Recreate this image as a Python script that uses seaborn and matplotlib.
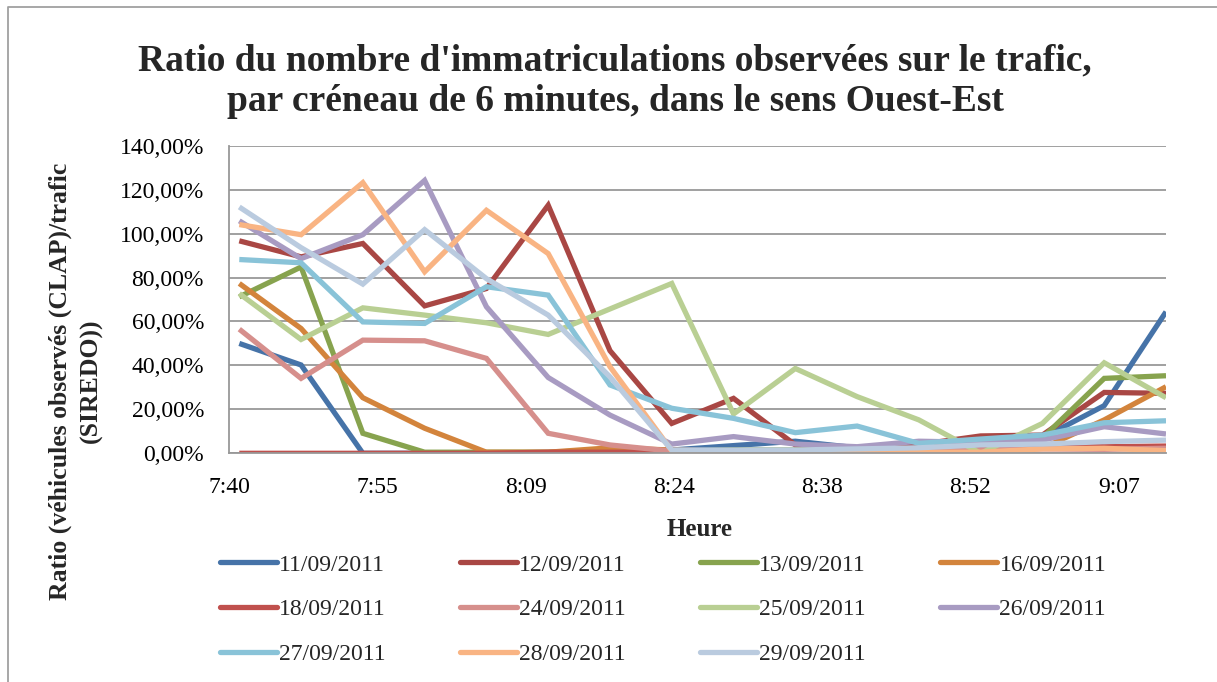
import matplotlib
matplotlib.use("Agg")
import matplotlib.pyplot as plt
from matplotlib.lines import Line2D
import seaborn as sns
import pandas as pd

# ---- data ----
slot_times = ["7:41", "7:47", "7:53", "7:59", "8:05", "8:11", "8:17", "8:23",
              "8:29", "8:35", "8:41", "8:47", "8:53", "8:59", "9:05", "9:11"]
dates = ["11/09/2011", "12/09/2011", "13/09/2011", "16/09/2011", "18/09/2011",
         "24/09/2011", "25/09/2011", "26/09/2011", "27/09/2011", "28/09/2011",
         "29/09/2011"]
r_11 = [50.0, 40.2, 0.0, 0.0, 0.0, 0.0, 0.5, 1.5, 3.5, 5.5, 2.5, 2.0, 4.5, 7.0, 21.7, 64.4]
r_12 = [96.7, 89.4, 95.5, 67.1, 75.0, 112.9, 46.7, 13.6, 25.0, 3.8, 2.5, 4.0, 7.9, 8.3, 27.7, 27.3]
r_13 = [71.2, 84.8, 9.1, 0.5, 0.5, 0.5, 1.5, 1.0, 1.5, 1.5, 1.5, 2.0, 4.0, 7.0, 34.1, 35.3]
r_16 = [77.3, 56.8, 25.3, 11.4, 0.5, 0.5, 2.5, 1.5, 1.0, 1.0, 1.5, 1.5, 2.0, 2.3, 15.2, 30.3]
r_18 = [0.0, 0.0, 0.0, 0.0, 0.0, 0.5, 0.5, 0.5, 1.0, 1.0, 1.5, 2.0, 3.0, 4.0, 3.0, 3.3]
r_24 = [56.5, 34.1, 51.5, 51.2, 43.2, 9.1, 3.8, 1.0, 0.5, 0.5, 0.5, 1.0, 1.5, 2.0, 1.8, 2.3]
r_25 = [72.7, 51.8, 66.2, 62.9, 59.4, 54.1, 65.7, 77.3, 17.9, 38.6, 25.8, 15.2, 0.0, 13.6, 41.2, 25.3]
r_26 = [105.8, 88.6, 99.5, 124.2, 66.7, 34.5, 17.4, 4.2, 7.6, 4.2, 3.0, 5.5, 5.0, 6.0, 12.1, 8.8]
r_27 = [88.2, 86.7, 59.8, 59.1, 75.8, 72.0, 31.1, 20.5, 15.9, 9.4, 12.4, 4.5, 6.5, 8.3, 13.9, 14.8]
r_28 = [104.1, 99.5, 123.2, 82.6, 110.6, 90.9, 39.4, 1.2, 1.0, 1.0, 0.5, 0.5, 0.5, 2.0, 2.3, 1.2]
r_29 = [112.1, 93.6, 77.0, 101.8, 79.5, 62.9, 34.8, 1.5, 1.5, 1.5, 2.0, 2.5, 3.8, 4.2, 5.3, 6.0]
series = [r_11, r_12, r_13, r_16, r_18, r_24, r_25, r_26, r_27, r_28, r_29]
x_tick_labels = ["7:40", "7:55", "8:09", "8:24", "8:38", "8:52", "9:07"]
y_ticks = [0, 20, 40, 60, 80, 100, 120, 140]

colors = ["#4673A8", "#A94744", "#87A34E", "#D3843C", "#C0504D", "#D68F8C",
          "#B9CF93", "#A89BC2", "#89C3D8", "#F9B483", "#BACBDF"]


def to_min(s):
    h, m = s.split(":")
    return int(h) * 60 + int(m)


minutes = [to_min(t) for t in slot_times]
rows = []
for d, vals in zip(dates, series):
    for m, v in zip(minutes, vals):
        rows.append({"date": d, "minute": m, "ratio": v})
df = pd.DataFrame(rows)

sns.set_theme(style="white")
plt.rcParams["font.family"] = ["Liberation Serif", "DejaVu Serif"]

W, H = 1217, 682
fig = plt.figure(figsize=(W / 100, H / 100), dpi=100)
ax = fig.add_axes([229 / W, 1 - 453.3 / H, (1166 - 229) / W, (453.3 - 145.7) / H])

sns.lineplot(data=df, x="minute", y="ratio", hue="date", hue_order=dates,
             palette=colors, linewidth=3.8, ax=ax, legend=False,
             solid_joinstyle="miter", solid_capstyle="butt")

x0 = to_min("7:40")
ax.set_xlim(x0, to_min("9:11"))
ax.set_ylim(0, 140)
ax.set_xticks([x0 + 14.4 * i for i in range(len(x_tick_labels))])
ax.set_xticklabels(x_tick_labels)
ax.set_yticks(y_ticks)
ax.set_yticklabels([f"{v},00%" for v in y_ticks])
ax.set_xlabel("")
ax.set_ylabel("")

grid_c = "#989898"
ax.yaxis.grid(True, color=grid_c, linewidth=1.3)
ax.xaxis.grid(False)
ax.set_axisbelow(True)
for s in ["top", "right"]:
    ax.spines[s].set_visible(False)
for s in ["left", "bottom"]:
    ax.spines[s].set_color(grid_c)
    ax.spines[s].set_linewidth(1.3)
ax.tick_params(axis="both", which="major", direction="out", length=5,
               width=1.1, color=grid_c, labelsize=17, labelcolor="black")
ax.tick_params(axis="y", pad=13)
ax.tick_params(axis="x", pad=12)

# title
fig.text(615 / W, 1 - 81 / H,
         "Ratio du nombre d'immatriculations observées sur le trafic,\n"
         "par créneau de 6 minutes, dans le sens Ouest-Est",
         ha="center", va="center", fontsize=27, fontweight="bold",
         linespacing=1.2)
# axis labels
fig.text(700 / W, 1 - 529 / H, "Heure", ha="center", va="center",
         fontsize=18, fontweight="bold")
fig.text(76 / W, 1 - 381 / H,
         "Ratio (véhicules observés (CLAP)/trafic\n(SIREDO))",
         ha="center", va="center", rotation=90, fontsize=18.5,
         fontweight="bold", multialignment="center", linespacing=1.42)

# legend (row-wise order like the reference)
ncol = 4
nrow = -(-len(dates) // ncol)
order = [r * ncol + c for c in range(ncol) for r in range(nrow)
         if r * ncol + c < len(dates)]
handles = [Line2D([0], [0], color=colors[i], linewidth=3.8) for i in order]
labels = [dates[i] for i in order]
fig.legend(handles, labels, ncol=ncol, loc="upper left",
           bbox_to_anchor=(220 / W, 1 - 554 / H), frameon=False,
           borderaxespad=0, borderpad=0, fontsize=17, handlelength=2.4,
           handletextpad=0.1, columnspacing=3.15, labelspacing=0.98)

# outer border
fig.add_artist(Line2D([7.7 / W, 7.7 / W, 1.0], [0.0, 1 - 6.5 / H, 1 - 6.5 / H],
                      transform=fig.transFigure, color="#a0a0a0", linewidth=1.3))

fig.savefig("out.png", dpi=100, facecolor="white")
